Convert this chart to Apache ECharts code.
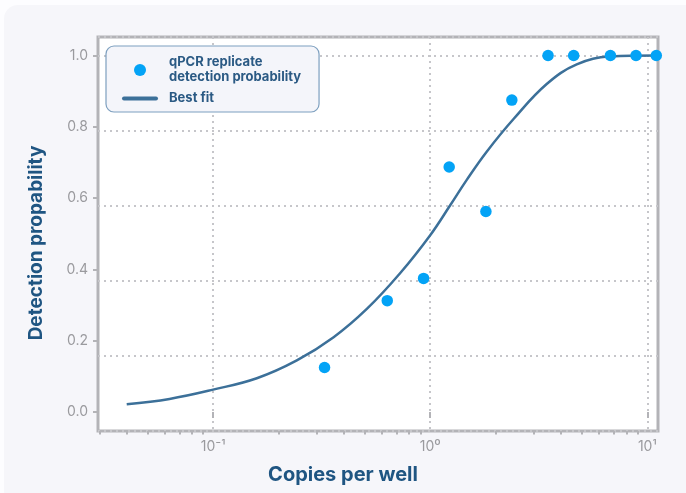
<!DOCTYPE html>
<html>
<head>
<meta charset="utf-8">
<script src="https://cdn.jsdelivr.net/npm/echarts@6/dist/echarts.min.js"></script>
<style>
  html, body { margin: 0; padding: 0; background: #fdfdff; }
  .card {
    position: absolute; left: 4px; top: 5px; width: 700px; height: 500px;
    background: #f6f6fa; border-radius: 14px;
  }
  #chart { position: absolute; left: 0; top: 0; width: 686px; height: 493px; }
</style>
</head>
<body>
<div class="card"></div>
<div id="chart"></div>
<script>
// qPCR replicate detection probability
const copies = [0.326, 0.634, 0.932, 1.223, 1.805, 2.377, 3.49, 4.58, 6.76, 8.87, 11.0];
const detected = [0.125, 0.3125, 0.375, 0.6875, 0.5625, 0.875, 1, 1, 1, 1, 1];

// best fit curve
const fitX = [0.04, 0.063, 0.1, 0.159, 0.243, 0.359, 0.512, 0.728, 1.0, 1.236, 1.476, 1.824, 2.42, 3.44, 4.73, 6.75, 11.0];
const fitY = [0.022, 0.037, 0.063, 0.095, 0.145, 0.210, 0.290, 0.390, 0.496, 0.580, 0.652, 0.731, 0.822, 0.920, 0.975, 0.997, 1.0];

const xMajor = [0.1, 1, 10];
const xMinor = [0.03, 0.04, 0.05, 0.06, 0.07, 0.08, 0.09,
  0.2, 0.3, 0.4, 0.5, 0.6, 0.7, 0.8, 0.9,
  2, 3, 4, 5, 6, 7, 8, 9];
const yTicks = [0, 0.2, 0.4, 0.6, 0.8, 1.0];
const xLabels = { '0.1': '10⁻¹', '1': '10⁰', '10': '10¹' };

const FONT = 'Inter, "Noto Sans", sans-serif';
const GRAY = '#b3b3b7';

const myChart = echarts.init(document.getElementById('chart'));

const option = {
  animation: false,
  textStyle: { fontFamily: FONT },
  grid: {
    left: 98, right: 28, top: 37, bottom: 62,
    show: true,
    backgroundColor: '#ffffff',
    borderColor: GRAY,
    borderWidth: 3
  },
  legend: {
    orient: 'vertical',
    left: 106,
    top: 46,
    padding: [9, 18, 6, 16],
    itemGap: 6,
    itemWidth: 36,
    itemHeight: 12,
    backgroundColor: '#f4f5fa',
    borderColor: '#7d9fbf',
    borderWidth: 1.2,
    borderRadius: 8,
    textStyle: {
      color: '#2b5a84', fontSize: 13, fontWeight: 'bold', lineHeight: 15,
      fontFamily: FONT, padding: [0, 0, 0, 6]
    },
    data: [
      { name: 'qPCR replicate\ndetection probability', icon: 'circle' },
      { name: 'Best fit', icon: 'path://M2,0 H34 A2,2 0 0 1 34,4 H2 A2,2 0 0 1 2,0 Z' }
    ]
  },
  xAxis: [
    {
      type: 'log',
      logBase: 10,
      min: 0.0295,
      max: 11.2,
      name: 'Copies per well',
      nameLocation: 'middle',
      nameGap: 34,
      nameTextStyle: { color: '#1f5582', fontSize: 20, fontWeight: 'bold', padding: [0, 70, 0, 0] },
      axisLine: { show: false },
      axisTick: {
        show: true, length: 6, customValues: xMajor,
        lineStyle: { color: GRAY, width: 2 }
      },
      axisLabel: {
        customValues: xMajor,
        color: '#9a9a9e', fontSize: 14, margin: 9,
        formatter: function (v) { return xLabels[String(+v.toPrecision(3))] || ''; }
      },
      splitLine: { show: true, lineStyle: { color: '#c6c6ca', width: 2, type: [2, 4] } }
    },
    {
      type: 'log',
      logBase: 10,
      min: 0.0295,
      max: 11.2,
      position: 'bottom',
      axisLine: { show: false },
      axisTick: {
        show: true, length: 3.5, customValues: xMinor,
        lineStyle: { color: GRAY, width: 2 }
      },
      axisLabel: { show: false },
      splitLine: { show: false }
    }
  ],
  yAxis: [
    {
      type: 'value',
      min: -0.053,
      max: 1.052,
      name: 'Detection propability',
      nameLocation: 'middle',
      nameGap: 52,
      nameTextStyle: { color: '#1f5582', fontSize: 19, fontWeight: 'bold', padding: [0, 18, 0, 0] },
      axisLine: { show: false },
      axisTick: { show: true, length: 5, customValues: yTicks, lineStyle: { color: GRAY, width: 2 } },
      axisLabel: {
        customValues: yTicks,
        color: '#9a9a9e', fontSize: 14, margin: 10,
        formatter: function (v) { return v.toFixed(1); }
      },
      splitLine: { show: false }
    },
    {
      // dotted grid, drawn on its own scale as in the picture
      type: 'value',
      min: 0,
      max: 1.0487,
      position: 'left',
      axisLine: { show: false },
      axisTick: { show: false },
      axisLabel: { show: false },
      splitLine: { show: true, lineStyle: { color: '#c6c6ca', width: 2, type: [2, 4] } }
    }
  ],
  series: [
    {
      name: 'Best fit',
      type: 'line',
      xAxisIndex: 0,
      yAxisIndex: 0,
      data: fitX.map((x, i) => [x, fitY[i]]),
      smooth: 0.4,
      showSymbol: false,
      symbol: 'none',
      itemStyle: { color: '#3c7099' },
      lineStyle: { color: '#3c7099', width: 2.5 },
      z: 2
    },
    {
      name: 'qPCR replicate\ndetection probability',
      type: 'scatter',
      xAxisIndex: 0,
      yAxisIndex: 0,
      data: copies.map((x, i) => [x, detected[i]]),
      symbol: 'circle',
      symbolSize: 11.5,
      itemStyle: { color: '#03a3f6', opacity: 1 },
      clip: false,
      z: 3
    }
  ]
};

myChart.setOption(option);
</script>
</body>
</html>
